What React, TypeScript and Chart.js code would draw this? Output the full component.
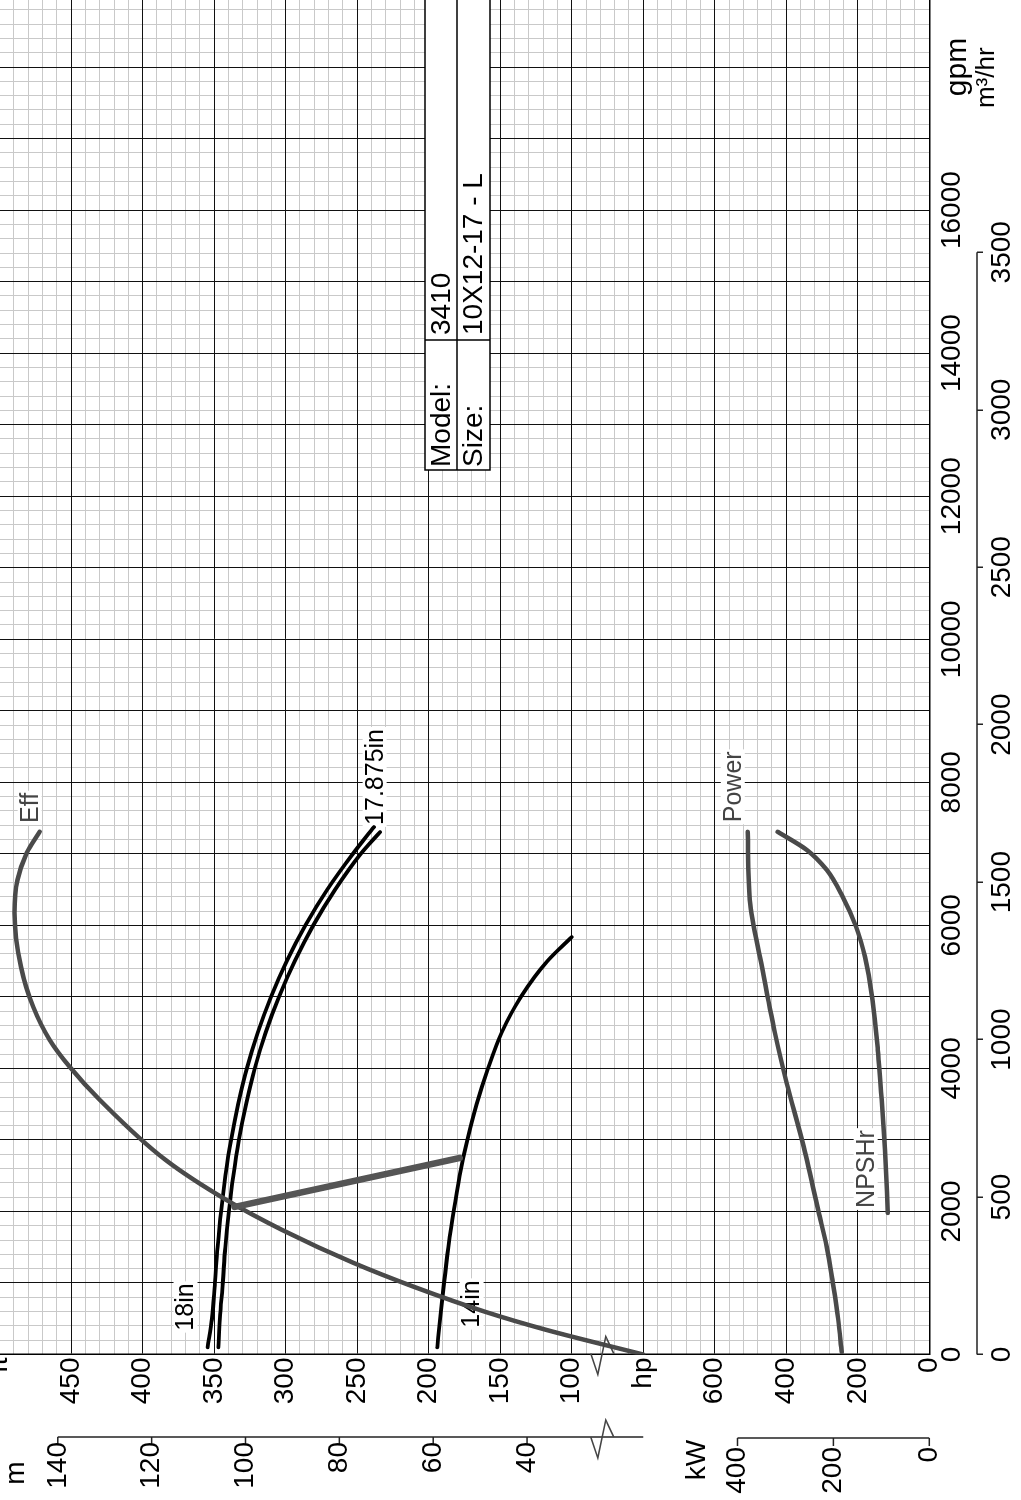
import React, { useEffect, useRef } from "react";
import { Chart, registerables } from "chart.js";

Chart.register(...registerables);

const FONT = "'Liberation Sans', Arial, Helvetica, sans-serif";

// ---------------- data ----------------
// Head curves (gpm -> ft)
const head18Gpm = [100, 500, 1000, 1500, 2000, 2500, 3000, 3500, 4000, 4500, 5000, 5500, 6000, 6500, 7000, 7375];
const head18Ft = [354.5, 351.5, 349.5, 347.6, 345.2, 342.1, 338.2, 333.2, 327.1, 319.5, 310.2, 299.2, 286.2, 270.9, 253, 238.3];
const head17Gpm = [100, 500, 1000, 1500, 2000, 2500, 3000, 3500, 4000, 4500, 5000, 5500, 6000, 6500, 7000, 7305];
const head17Ft = [347, 346, 344, 342.2, 339.7, 336.6, 332.7, 327.7, 321.6, 314, 304.7, 293.7, 280.7, 265.4, 247.5, 234];
const head14Gpm = [100, 500, 1000, 1500, 2000, 2500, 3000, 3500, 4000, 4500, 5000, 5500, 5837];
const head14Ft = [194, 192, 189.3, 186.2, 182.6, 178.3, 173, 166.5, 158.5, 149, 135.5, 117, 100];

// Operating line (gpm -> ft)
const opGpm = [2063, 2748];
const opFt = [335.7, 178.3];

// Efficiency (gpm -> %)
const effGpm = [0, 343, 594, 944, 1280, 1742, 2161, 2720, 3560, 4021, 4399, 4860, 5420, 6175, 6636, 7014, 7308];
const effPct = [0, 13.5, 22, 32, 40.5, 50.5, 58.3, 66.8, 76.0, 80.2, 83, 85.3, 87.0, 87.9, 87.5, 86.2, 84.4];

// Power (gpm -> hp)
const powerGpm = [35, 500, 1000, 1504, 2000, 2958, 3797, 4500, 5420, 6357, 7308];
const powerHp = [245, 255, 270, 287, 310, 354, 399, 432, 468, 502, 508];

// NPSHr (gpm -> ft)
const npshGpm = [1979, 2860, 3560, 4259, 4958, 5560, 5983, 6397, 6776, 7056, 7308];
const npshFt = [11.6, 12.4, 13.3, 14.4, 15.9, 18.0, 20.5, 24.2, 28.7, 34.3, 42.4];

// Tick labels
const gpmTickLabels = [0, 2000, 4000, 6000, 8000, 10000, 12000, 14000, 16000];
const m3hTickLabels = [0, 500, 1000, 1500, 2000, 2500, 3000, 3500];
const headTickLabels = [100, 150, 200, 250, 300, 350, 400, 450];
const hpTickLabels = [0, 200, 400, 600];
const mTickLabels = [40, 60, 80, 100, 120, 140];
const kwTickLabels = [0, 200, 400];

// Curve labels
const curveLabelText = ["18in", "14in", "17.875in", "Eff", "Power", "NPSHr"];
const curveLabelGpm = [664, 706, 8075, 7643, 7937, 2593];
const curveLabelVal = [370, 170, 237.8, 85.8, 549.6, 17.8];
const curveLabelAxis = ["y", "y", "y", "yEff", "yHp", "yNpsh"];
const curveLabelColor = ["#000", "#000", "#000", "#444", "#444", "#444"];

// Model table
const tableRows = [
  ["Model:", "3410"],
  ["Size:", "10X12-17 - L"],
];

// ---------------- scale setup ----------------
const GPM_TO_M3H = 0.227125;
const FT_PER_M = 3.28084;
const HP_PER_KW = 1.34102;
const GPM_MAX = 20000;
const FT_MIN = -150; // bottom of chart: hp axis zero
const FT_MAX = 520;
const hpToFt = (hp: number) => hp / 4 - 150;
const ftToHp = (ft: number) => (ft + 150) * 4;
const effToFt = (e: number) => e * 5 + 50;

const CW = 1576;
const CH = 1050;
const TOP_OFF = 29;

const range = (a: number, b: number, s: number) => {
  const out: number[] = [];
  for (let v = a; v <= b + 1e-9; v += s) out.push(Math.round(v * 1000) / 1000);
  return out;
};
const zip = (xs: number[], ys: number[]) => xs.map((x, i) => ({ x, y: ys[i] }));

const MAJOR = "#111";
const MINOR = "#c9c9c9";
const CURVE_GRAY = "#4a4a4a";

const extrasPlugin = {
  id: "extras",
  beforeDatasetsDraw(chart: any) {
    const ctx = chart.ctx;
    const x = chart.scales.x;
    ctx.save();
    ctx.font = `25px ${FONT}`;
    ctx.textAlign = "center";
    ctx.textBaseline = "middle";
    curveLabelText.forEach((t, i) => {
      const px = x.getPixelForValue(curveLabelGpm[i]);
      const py = chart.scales[curveLabelAxis[i]].getPixelForValue(curveLabelVal[i]);
      const w = ctx.measureText(t).width;
      ctx.fillStyle = "#fff";
      ctx.fillRect(px - w / 2 - 2, py - 12, w + 4, 24);
      ctx.fillStyle = curveLabelColor[i];
      ctx.fillText(t, px, py + 1);
    });
    ctx.restore();
  },
  afterDraw(chart: any) {
    const ctx = chart.ctx;
    const x = chart.scales.x;
    const y = chart.scales.y;
    const x2 = chart.scales.x2;
    const area = chart.chartArea;
    ctx.save();
    ctx.strokeStyle = "#222";
    ctx.fillStyle = "#000";
    ctx.lineWidth = 1.5;
    const line = (a: number, b: number, c: number, d: number) => {
      ctx.beginPath();
      ctx.moveTo(a, b);
      ctx.lineTo(c, d);
      ctx.stroke();
    };
    const zig = (u: number) => {
      ctx.beginPath();
      ctx.moveTo(u, y.getPixelForValue(86.7));
      ctx.lineTo(u - 21, y.getPixelForValue(81.8));
      ctx.lineTo(u + 17, y.getPixelForValue(76.2));
      ctx.lineTo(u, y.getPixelForValue(70.6));
      ctx.stroke();
    };
    // break mark on plot border
    ctx.strokeStyle = "#444";
    zig(area.left + 1);
    ctx.strokeStyle = "#222";

    ctx.font = `28px ${FONT}`;
    ctx.textBaseline = "middle";
    // metre axis
    const MU = 63;
    line(MU, y.getPixelForValue(140 * FT_PER_M), MU, y.getPixelForValue(50));
    ctx.strokeStyle = "#444";
    zig(MU);
    ctx.strokeStyle = "#222";
    ctx.textAlign = "right";
    mTickLabels.forEach((m) => {
      const py = y.getPixelForValue(m * FT_PER_M);
      line(MU, py, MU - 8, py);
      ctx.fillText(String(m), MU - 5, py);
    });
    // kW axis
    const KU = 62;
    const kwFt = (kw: number) => hpToFt(kw * HP_PER_KW);
    line(KU, y.getPixelForValue(kwFt(400)), KU, y.getPixelForValue(kwFt(0)));
    kwTickLabels.forEach((kw) => {
      const py = y.getPixelForValue(kwFt(kw));
      line(KU, py, KU - 8, py);
      ctx.fillText(String(kw), KU - 9, py);
    });
    ctx.textAlign = "center";
    ctx.fillText("m", 27, y.getPixelForValue(488));
    ctx.fillText("kW", 40, y.getPixelForValue(11.9));

    // flow unit labels
    ctx.font = `30px ${FONT}`;
    ctx.fillText("gpm", x.getPixelForValue(18000), area.bottom + 28);
    ctx.font = `26px ${FONT}`;
    ctx.fillText("m³/hr", x.getPixelForValue(17850), area.bottom + 58);

    // m3/hr axis line
    line(x2.getPixelForValue(0), x2.top, x2.getPixelForValue(3500), x2.top);

    // model table
    const tl = 1030, tc = 1160, tt = 454, tm = 486, tb = 519;
    ctx.fillStyle = "#fff";
    ctx.fillRect(tl, tt, CW - tl + 5, tb - tt);
    ctx.strokeStyle = "#000";
    ctx.lineWidth = 1.5;
    ctx.strokeRect(tl, tt, CW - tl + 5, tb - tt);
    line(tl, tm, CW, tm);
    line(tc, tt, tc, tb);
    ctx.fillStyle = "#000";
    ctx.textAlign = "left";
    ctx.font = `28px ${FONT}`;
    tableRows.forEach((r, i) => {
      const cy = i === 0 ? (tt + tm) / 2 + 1 : (tm + tb) / 2 + 1;
      ctx.fillText(r[0], tl + 3, cy);
      ctx.fillText(r[1], tc + 5, cy);
    });
    ctx.restore();
  },
};

function buildConfig(): any {
  const lineDs = (data: any[], axis: string, color: string, width: number, order: number) => ({
    data,
    yAxisID: axis,
    borderColor: color,
    borderWidth: width,
    pointRadius: 0,
    fill: false,
    cubicInterpolationMode: "monotone",
    borderCapStyle: "round",
    order,
  });
  const zeroPad = (s: any) => {
    s.paddingLeft = 0;
    s.paddingRight = 0;
    s.paddingTop = 0;
    s.paddingBottom = 0;
  };
  const tickFont = { family: FONT, size: 28 };
  return {
    type: "line",
    data: {
      datasets: [
        lineDs(zip(opGpm, opFt), "y", "#555", 6.5, 0),
        lineDs(zip(effGpm, effPct), "yEff", CURVE_GRAY, 4.5, 1),
        lineDs(zip(powerGpm, powerHp), "yHp", CURVE_GRAY, 4.5, 2),
        lineDs(zip(npshGpm, npshFt), "yNpsh", CURVE_GRAY, 4.5, 2),
        lineDs(zip(head18Gpm, head18Ft), "y", "#000", 3.8, 3),
        lineDs(zip(head17Gpm, head17Ft), "y", "#000", 3.8, 3),
        lineDs(zip(head14Gpm, head14Ft), "y", "#000", 3.8, 3),
      ],
    },
    options: {
      responsive: false,
      animation: false,
      events: [],
      layout: { padding: 0, autoPadding: false },
      plugins: { legend: { display: false }, tooltip: { enabled: false } },
      scales: {
        xMinor: {
          type: "linear",
          position: "bottom",
          weight: 3,
          min: 0,
          max: GPM_MAX,
          afterBuildTicks: (s: any) => {
            s.ticks = range(0, GPM_MAX, 200).map((v) => ({ value: v }));
          },
          ticks: { display: false },
          grid: { color: MINOR, lineWidth: 1, drawTicks: false, z: -2 },
          border: { display: false },
          afterFit: (s: any) => {
            s.height = 0;
            zeroPad(s);
          },
        },
        yMinor: {
          type: "linear",
          position: "left",
          weight: 3,
          min: FT_MIN,
          max: FT_MAX,
          afterBuildTicks: (s: any) => {
            s.ticks = range(FT_MIN, FT_MAX, 10).map((v) => ({ value: v }));
          },
          ticks: { display: false },
          grid: { color: MINOR, lineWidth: 1, drawTicks: false, z: -2 },
          border: { display: false },
          afterFit: (s: any) => {
            s.width = 0;
            zeroPad(s);
          },
        },
        x: {
          type: "linear",
          position: "bottom",
          weight: 0,
          min: 0,
          max: GPM_MAX,
          afterBuildTicks: (s: any) => {
            s.ticks = range(0, GPM_MAX, 1000).map((v) => ({ value: v }));
          },
          ticks: {
            autoSkip: false,
            maxRotation: 0,
            minRotation: 0,
            padding: 6,
            color: "#000",
            font: tickFont,
            callback: (v: number) => (gpmTickLabels.includes(v) ? String(v) : ""),
          },
          grid: { color: MAJOR, lineWidth: 1, drawTicks: false },
          border: { display: true, color: "#000", width: 1.5 },
          afterFit: (s: any) => {
            s.height = 47.7;
            zeroPad(s);
          },
        },
        x2: {
          type: "linear",
          position: "bottom",
          weight: 1,
          min: 0,
          max: GPM_MAX * GPM_TO_M3H,
          afterBuildTicks: (s: any) => {
            s.ticks = m3hTickLabels.map((v) => ({ value: v }));
          },
          ticks: {
            autoSkip: false,
            maxRotation: 0,
            minRotation: 0,
            padding: 2,
            color: "#000",
            font: tickFont,
            callback: (v: number) => String(v),
          },
          grid: {
            drawOnChartArea: false,
            drawTicks: true,
            tickLength: 6,
            lineWidth: 1.5,
            color: "#222",
          },
          border: { display: false },
          afterFit: (s: any) => {
            s.height = 44;
            zeroPad(s);
          },
        },
        y: {
          type: "linear",
          position: "left",
          weight: 0,
          min: FT_MIN,
          max: FT_MAX,
          afterBuildTicks: (s: any) => {
            s.ticks = range(FT_MIN, 500, 50).map((v) => ({ value: v }));
          },
          ticks: {
            autoSkip: false,
            padding: 3,
            color: "#000",
            font: tickFont,
            callback: (v: number) => {
              if (v === 500) return "ft";
              if (v === 50) return "hp";
              if (headTickLabels.includes(v)) return String(v);
              const hp = ftToHp(v);
              return hpTickLabels.includes(hp) ? String(hp) : "";
            },
          },
          grid: { color: MAJOR, lineWidth: 1, drawTicks: false },
          border: { display: true, color: "#000", width: 1.5 },
          afterFit: (s: any) => {
            s.width = 145.5;
            zeroPad(s);
          },
        },
        yEff: {
          type: "linear",
          display: false,
          min: (FT_MIN - effToFt(0)) / 5,
          max: (FT_MAX - effToFt(0)) / 5,
        },
        yHp: { type: "linear", display: false, min: ftToHp(FT_MIN), max: ftToHp(FT_MAX) },
        yNpsh: { type: "linear", display: false, min: 0, max: (FT_MAX - FT_MIN) / 2.5 },
      },
    },
    plugins: [extrasPlugin],
  };
}

export default function App() {
  const ref = useRef<HTMLCanvasElement>(null);
  useEffect(() => {
    if (!ref.current) return;
    const chart = new Chart(ref.current, buildConfig());
    return () => chart.destroy();
  }, []);
  return (
    <div
      style={{
        position: "fixed",
        left: 0,
        top: 0,
        width: 1021,
        height: 1500,
        overflow: "hidden",
        background: "#fff",
      }}
    >
      <div
        style={{
          position: "absolute",
          left: 0,
          top: 0,
          width: CW,
          height: CH,
          transformOrigin: "0 0",
          transform: `translate(${-TOP_OFF}px, 1500px) rotate(-90deg)`,
        }}
      >
        <canvas ref={ref} width={CW} height={CH} style={{ display: "block", width: CW, height: CH }} />
      </div>
    </div>
  );
}
